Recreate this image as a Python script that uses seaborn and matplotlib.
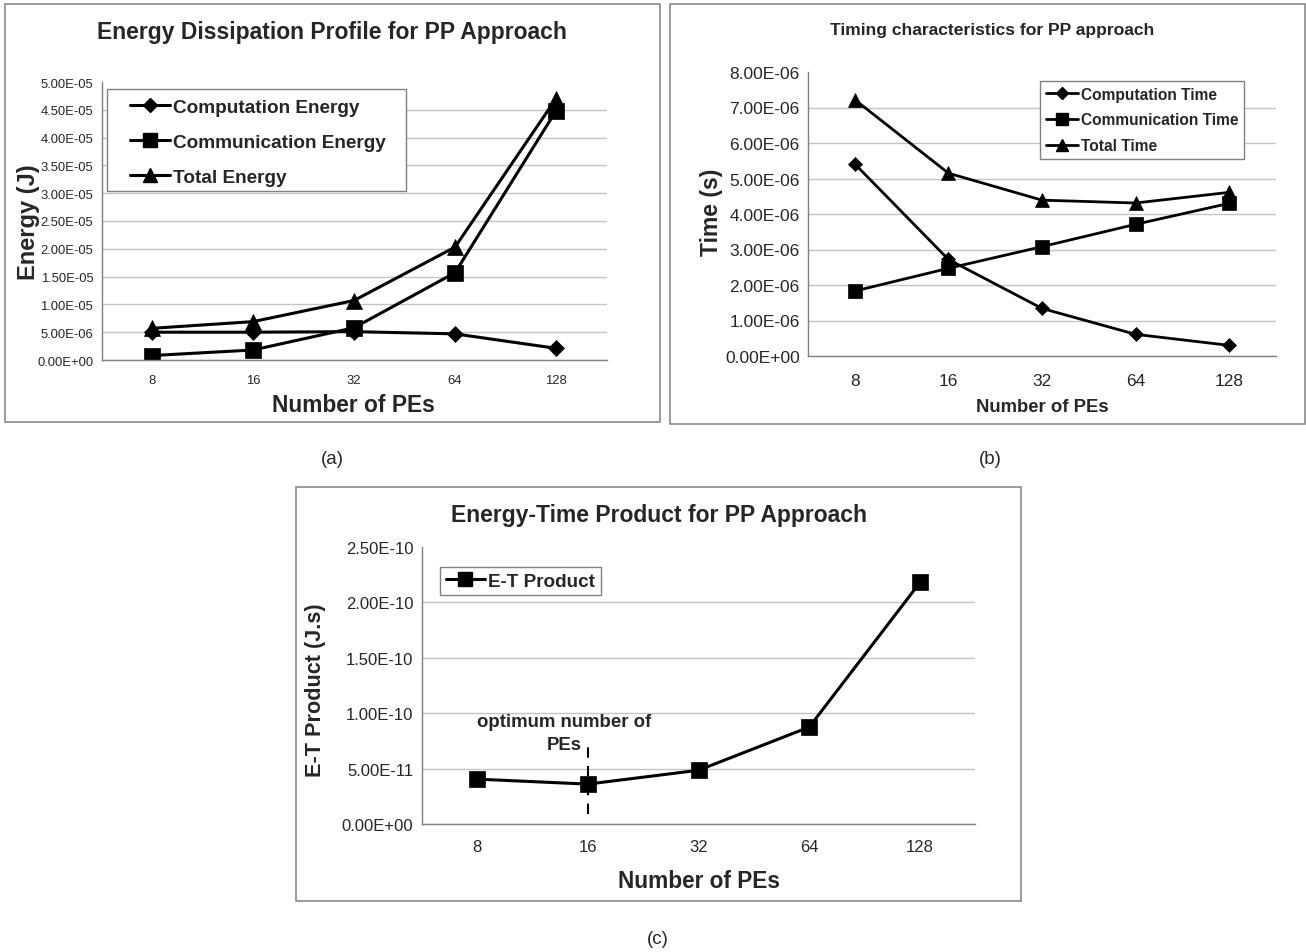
import numpy as np
import pandas as pd
import matplotlib.pyplot as plt
import seaborn as sns
from matplotlib.patches import Rectangle

# data
pes = ['8', '16', '32', '64', '128']

comp_energy = [5.0e-06, 5.0e-06, 5.1e-06, 4.7e-06, 2.1e-06]
comm_energy = [0.8e-06, 1.8e-06, 5.8e-06, 15.7e-06, 44.8e-06]
total_energy = [5.7e-06, 6.9e-06, 10.7e-06, 20.3e-06, 47.0e-06]

comp_time = [5.41e-06, 2.72e-06, 1.34e-06, 0.61e-06, 0.30e-06]
comm_time = [1.83e-06, 2.47e-06, 3.08e-06, 3.71e-06, 4.30e-06]
total_time = [7.22e-06, 5.15e-06, 4.39e-06, 4.31e-06, 4.61e-06]

et_product = [4.05e-11, 3.6e-11, 4.85e-11, 8.75e-11, 2.18e-10]

energy_ticks = np.linspace(0, 5e-05, 11)
time_ticks = np.linspace(0, 8e-06, 9)
et_ticks = np.linspace(0, 2.5e-10, 6)

sns.set_style('white')
plt.rcParams['font.family'] = ['Liberation Sans', 'DejaVu Sans']

W, H = 1306, 953
fig = plt.figure(figsize=(W / 100, H / 100), dpi=100)


def px_axes(left, top, right, bottom):
    return fig.add_axes([left / W, 1 - bottom / H, (right - left) / W, (bottom - top) / H])


def ftext(x, y, s, **kw):
    fig.text(x / W, 1 - y / H, s, ha='center', va='center', **kw)


def box(left, top, right, bottom):
    fig.patches.append(Rectangle((left / W, 1 - bottom / H), (right - left) / W, (bottom - top) / H,
                                 transform=fig.transFigure, fill=False, edgecolor='#8a8a8a', lw=1.2))


def style_axes(ax, ticks, tick_fs, xpad):
    x = np.arange(len(pes))
    ax.set_xlim(-0.5, len(pes) - 0.5)
    ax.set_ylim(0, ticks[-1])
    ax.set_yticks(ticks, [f'{v:.2E}' for v in ticks])
    ax.set_xticks(x, pes)
    ax.set_xticks(np.arange(-0.5, len(pes)), minor=True)
    ax.tick_params(axis='x', which='major', length=0, labelsize=tick_fs, pad=xpad)
    ax.tick_params(axis='x', which='minor', length=4, width=1, color='#808080', direction='out')
    ax.tick_params(axis='y', length=4, width=1, color='#808080', direction='out', labelsize=tick_fs, pad=2)
    ax.yaxis.grid(True, color='#c4c4c4', lw=1)
    ax.get_ygridlines()[-1].set_visible(False)
    for s in ['top', 'right']:
        ax.spines[s].set_visible(False)
    for s in ['left', 'bottom']:
        ax.spines[s].set_color('#808080')
        ax.spines[s].set_linewidth(1)
    ax.set_xlabel('')
    ax.set_ylabel('')


def draw_series(ax, series, lw):
    x = np.arange(len(pes))
    handles = []
    for name, vals, marker, ms in series:
        df = pd.DataFrame({'pos': x, 'value': vals})
        sns.lineplot(data=df, x='pos', y='value', color='black', lw=lw, marker=marker, markersize=ms,
                     markeredgecolor='black', markeredgewidth=0.5, ax=ax, legend=False)
        handles.append(plt.Line2D([0], [0], color='black', lw=lw, marker=marker, markersize=ms * 0.85,
                                  markeredgecolor='black', label=name))
    return handles


# (a) energy
box(5, 5, 660, 423)
ax_a = px_axes(101.5, 83, 606.5, 361)
h = draw_series(ax_a, [('Computation Energy', comp_energy, 'D', 8.0),
                       ('Communication Energy', comm_energy, 's', 11.5),
                       ('Total Energy', total_energy, '^', 11.5)], 2.2)
style_axes(ax_a, energy_ticks, 9.4, 10)
# legend frame is wider than the entries, so it is drawn on its own
ax_a.add_patch(Rectangle((0.0109, 0.608), 0.592, 0.367, transform=ax_a.transAxes, facecolor='white',
                         edgecolor='#808080', lw=1, zorder=4))
ax_a.legend(handles=h, loc='upper left', bbox_to_anchor=(0.0564, 0.94), borderaxespad=0,
            prop={'weight': 'bold', 'size': 13.7}, frameon=False, borderpad=0,
            handlelength=2.1, handletextpad=0.15, labelspacing=0.92)
ftext(332, 33, 'Energy Dissipation Profile for PP Approach', fontsize=16.5, fontweight='bold')
ftext(353, 405, 'Number of PEs', fontsize=16.4, fontweight='bold')
ftext(28, 222, 'Energy (J)', fontsize=17, fontweight='bold', rotation=90)
ftext(332, 459, '(a)', fontsize=13.5)

# (b) timing
box(670, 5, 1305, 425)
ax_b = px_axes(808, 73, 1276, 357)
h = draw_series(ax_b, [('Computation Time', comp_time, 'D', 6.8),
                       ('Communication Time', comm_time, 's', 10),
                       ('Total Time', total_time, '^', 10.5)], 2.0)
style_axes(ax_b, time_ticks, 12.5, 12)
ax_b.legend(handles=h, loc='upper left', bbox_to_anchor=(0.496, 0.968), borderaxespad=0,
            prop={'weight': 'bold', 'size': 11.2}, frameon=True, fancybox=False, framealpha=1,
            edgecolor='#808080', borderpad=0.35, handlelength=2.1, handletextpad=0.15, labelspacing=0.7)
ftext(992, 30, 'Timing characteristics for PP approach', fontsize=12.6, fontweight='bold')
ftext(1042, 408, 'Number of PEs', fontsize=13.3, fontweight='bold')
ftext(712, 212, 'Time (s)', fontsize=16.5, fontweight='bold', rotation=90)
ftext(990, 459, '(b)', fontsize=13.5)

# (c) energy-time product
box(296, 488, 1021, 902)
ax_c = px_axes(421.6, 548, 975.4, 825)
h = draw_series(ax_c, [('E-T Product', et_product, 's', 11.5)], 2.2)
style_axes(ax_c, et_ticks, 12, 11)
ax_c.legend(handles=h, loc='upper left', bbox_to_anchor=(0.033, 0.928), borderaxespad=0,
            prop={'weight': 'bold', 'size': 13.6}, frameon=True, fancybox=False, framealpha=1,
            edgecolor='#808080', borderpad=0.3, handlelength=2.1, handletextpad=0.15)
ax_c.vlines(1, 0.9e-11, 7.2e-11, colors='black', linestyles=(0, (5, 4)), lw=1.5)
ax_c.text(0.79, 8.2e-11, 'optimum number of\nPEs', ha='center', va='center', fontsize=13.4,
          fontweight='bold', linespacing=1.45)
ftext(659, 516, 'Energy-Time Product for PP Approach', fontsize=16.5, fontweight='bold')
ftext(699, 882, 'Number of PEs', fontsize=16.3, fontweight='bold')
ftext(315, 690, 'E-T Product (J.s)', fontsize=15.6, fontweight='bold', rotation=90)
ftext(658, 940, '(c)', fontsize=13.5)

plt.savefig('out.png', dpi=100)
